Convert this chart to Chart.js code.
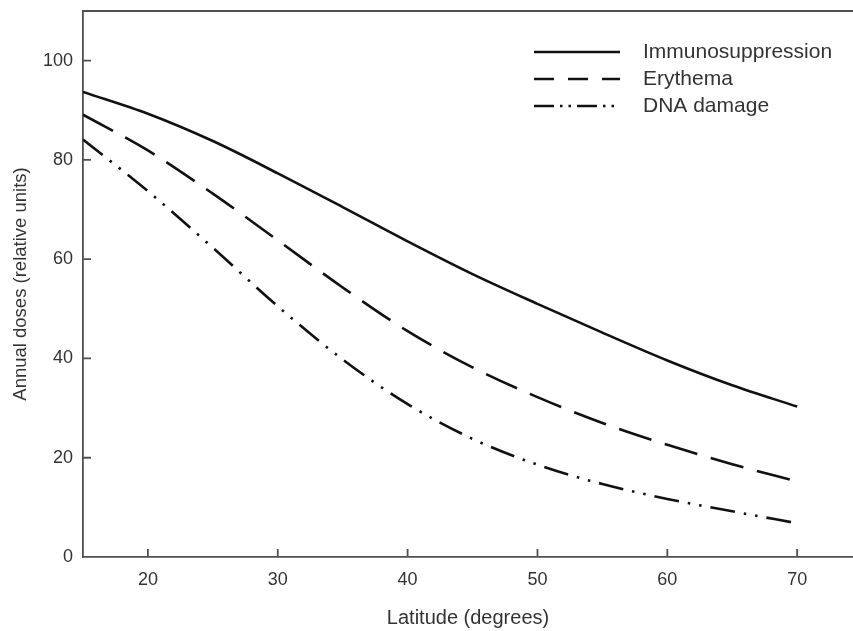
<!DOCTYPE html>
<html>
<head>
<meta charset="utf-8">
<script src="https://cdn.jsdelivr.net/npm/chart.js@4.4.0/dist/chart.umd.min.js"></script>
<style>
  html, body { margin: 0; padding: 0; background: #fff; }
  #wrap { width: 853px; height: 631px; }
</style>
</head>
<body>
<div id="wrap"><canvas id="chart" width="853" height="631"></canvas></div>
<script>
// Latitude (degrees) and annual doses (relative units)
const latitudes = [15, 20, 25, 30, 35, 40, 45, 50, 55, 60, 65, 70];
const immunosuppression = [93.7, 89.3, 83.8, 77.3, 70.5, 63.6, 57.0, 51.0, 45.2, 39.6, 34.6, 30.3];
const erythema = [89.1, 81.9, 73.2, 63.8, 54.3, 45.5, 38.2, 32.2, 27.0, 22.6, 18.7, 15.2];
const dnaDamage = [84.1, 73.7, 62.3, 50.5, 39.8, 30.8, 23.8, 18.6, 14.7, 11.7, 9.2, 6.8];

const xTicks = [20, 30, 40, 50, 60, 70];
const yTicks = [0, 20, 40, 60, 80, 100];

const seriesLabels = ['Immunosuppression', 'Erythema', 'DNA damage'];

const FONT = "'Liberation Sans', Arial, Helvetica, sans-serif";
const AXIS_COLOR = '#505050';
const TEXT_COLOR = '#333';

function toPoints(values) {
    return latitudes.map((lat, i) => ({ x: lat, y: values[i] }));
}

// inward tick marks + top frame line
const frame = {
    id: 'frame',
    afterDraw(chart) {
        const { ctx, chartArea } = chart;
        const xs = chart.scales.x, ys = chart.scales.y;
        ctx.save();
        ctx.strokeStyle = AXIS_COLOR;
        ctx.lineWidth = 1.8;
        ctx.beginPath();
        ctx.moveTo(chartArea.left, chartArea.top);
        ctx.lineTo(chart.width, chartArea.top);
        xTicks.forEach(v => {
            const px = xs.getPixelForValue(v);
            ctx.moveTo(px, chartArea.bottom);
            ctx.lineTo(px, chartArea.bottom - 8);
        });
        yTicks.forEach(v => {
            if (v === 0) return;
            const py = ys.getPixelForValue(v);
            ctx.moveTo(chartArea.left, py);
            ctx.lineTo(chartArea.left + 8, py);
        });
        ctx.stroke();
        ctx.restore();
    }
};

// legend drawn in the top right corner of the plot
const legendBox = {
    id: 'legendBox',
    afterDraw(chart, args, opts) {
        const { ctx } = chart;
        ctx.save();
        chart.data.datasets.forEach((ds, i) => {
            const y = opts.top + i * opts.rowGap;
            ctx.strokeStyle = ds.borderColor;
            ctx.lineWidth = ds.borderWidth;
            ctx.setLineDash(opts.dashes[i]);
            ctx.beginPath();
            ctx.moveTo(opts.lineStart, y);
            ctx.lineTo(opts.lineEnd, y);
            ctx.stroke();
            ctx.setLineDash([]);
            ctx.fillStyle = TEXT_COLOR;
            ctx.font = opts.fontSize + 'px ' + FONT;
            ctx.textBaseline = 'middle';
            ctx.textAlign = 'left';
            ctx.fillText(ds.label, opts.textX, y);
        });
        ctx.restore();
    }
};

const config = {
    type: 'line',
    data: {
        datasets: [
            {
                label: seriesLabels[0],
                data: toPoints(immunosuppression),
                borderColor: '#111',
                borderWidth: 2.6,
                pointRadius: 0,
                cubicInterpolationMode: 'monotone'
            },
            {
                label: seriesLabels[1],
                data: toPoints(erythema),
                borderColor: '#111',
                borderWidth: 2.6,
                borderDash: [34, 14],
                pointRadius: 0,
                cubicInterpolationMode: 'monotone'
            },
            {
                label: seriesLabels[2],
                data: toPoints(dnaDamage),
                borderColor: '#111',
                borderWidth: 2.6,
                borderDash: [25, 9, 2.5, 9, 2.5, 9],
                pointRadius: 0,
                cubicInterpolationMode: 'monotone'
            }
        ]
    },
    options: {
        responsive: false,
        animation: false,
        layout: { padding: { top: 11, right: 0, left: 0, bottom: 0 } },
        plugins: {
            legend: { display: false },
            tooltip: { enabled: false },
            legendBox: {
                top: 52,
                rowGap: 27,
                lineStart: 534,
                lineEnd: 620,
                textX: 643,
                fontSize: 21,
                dashes: [[], [20, 14], [20, 6, 2.5, 6, 2.5, 6]]
            }
        },
        scales: {
            x: {
                type: 'linear',
                min: 15,
                max: 74.3,
                grid: { display: false, drawTicks: false },
                border: { display: true, color: AXIS_COLOR, width: 1.8 },
                afterBuildTicks: scale => { scale.ticks = xTicks.map(v => ({ value: v })); },
                afterFit: scale => {
                    scale.height = 74;
                    scale.paddingLeft = 0;
                    scale.paddingRight = 0;
                },
                ticks: {
                    padding: 12,
                    color: TEXT_COLOR,
                    font: { family: FONT, size: 18 }
                },
                title: {
                    display: true,
                    text: 'Latitude (degrees)',
                    color: TEXT_COLOR,
                    font: { family: FONT, size: 20 },
                    padding: { top: 0, bottom: 1 }
                }
            },
            y: {
                min: 0,
                max: 110,
                grid: { display: false, drawTicks: false },
                border: { display: true, color: AXIS_COLOR, width: 1.8 },
                afterBuildTicks: scale => { scale.ticks = yTicks.map(v => ({ value: v })); },
                afterFit: scale => {
                    scale.width = 83;
                    scale.paddingTop = 0;
                    scale.paddingBottom = 0;
                },
                ticks: {
                    padding: 10,
                    color: TEXT_COLOR,
                    font: { family: FONT, size: 18 }
                },
                title: {
                    display: true,
                    text: 'Annual doses (relative units)',
                    color: TEXT_COLOR,
                    font: { family: FONT, size: 18.5 },
                    padding: { top: 10, bottom: 0 }
                }
            }
        }
    },
    plugins: [frame, legendBox]
};

const ctx = document.getElementById('chart').getContext('2d');
const chart = new Chart(ctx, config);
</script>
</body>
</html>
